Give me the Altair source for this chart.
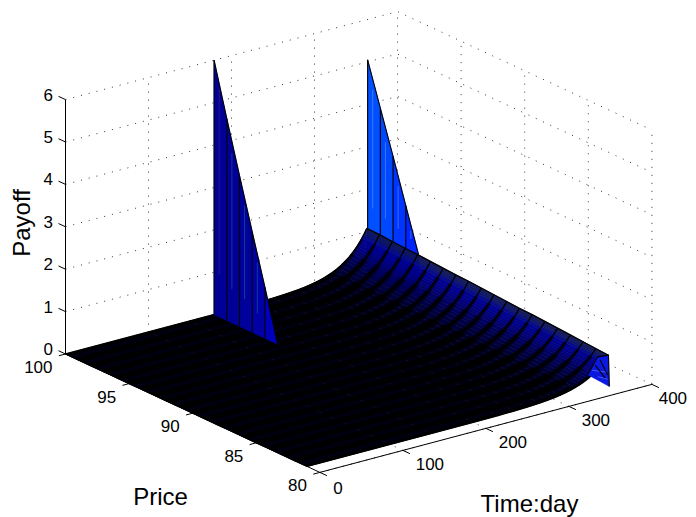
import altair as alt

# ---- values ----
price_ticks = [100, 95, 90, 85, 80]
time_ticks = [0, 100, 200, 300, 400]
payoff_ticks = [0, 1, 2, 3, 4, 5, 6]
prices = [100, 99, 98, 97, 96, 95, 94, 93, 92, 91, 90, 89, 88, 87, 86, 85, 84, 83, 82, 81]
ridge = [1.08, 1.07, 1.05, 1.03, 1.02, 1.00, .98, .96, .95, .93, .91, .89, .87, .86, .84, .82, .80, .78, .76, .74]
times = [0, 100, 150, 200, 230, 250, 265, 280, 290, 298, 305, 312, 318, 323, 328, 332, 336, 339, 342, 345, 347, 349, 351, 353, 355, 357, 359, 360, 361, 362, 363]
back_edge = [0, 0, .001, .004, .011, .022, .037, .062, .087, .115, .146, .186, .229, .272, .323, .371, .426, .472, .523, .580, .622, .666, .714, .765, .819, .878, .941, .974, 1.008, 1.044, 1.08]
shades = ["#000014", "#000014", "#000014", "#000014", "#000014", "#000014", "#000016", "#000018", "#00001c", "#000020", "#000024",
          "#00002a", "#000030", "#000038", "#000040", "#00004a", "#000054", "#00005e", "#000068", "#000072", "#00007c",
          "#000086", "#000090", "#000098", "#00009c", "#060c90", "#0c1480", "#101870", "#121a68", "#141c60"]
band_limits = [357, 345, 323]
band_halfwidths = [0.14, 0.24, 0.38]
band_opacities = [0.6, 0.5, 0.75]
spike1_time = 179
spike1_prices = [100, 99, 98, 97, 96, 95]
spike1_values = [6.0, 4.76, 3.56, 2.37, 1.2, 0.0]
spike1_colors = ["#000096", "#000096", "#00009a", "#0000a4", "#0000b8"]
spike1_streak_prices = [99.6, 98.6, 97.6, 96.6]
spike1_streak_top = [5.4, 4.0, 2.9, 1.7]
spike1_streak_low = [1.0, 0.8, 0.7, 0.5]
spike1_streak_colors = ["#5a2070", "#3050a0", "#107090", "#1060a0"]
spike2_time = 364
spike2_prices = [100, 99, 98, 97, 96]
spike2_values = [5.05, 4.05, 3.05, 2.03, 1.02]
spike2_colors = ["#0050ff", "#0048ff", "#0034ff", "#0024ff"]
spike2_streak_prices = [99.6, 98.6, 97.6, 96.6]
spike2_streak_top = [4.4, 3.3, 2.4, 1.5]
spike2_streak_low = [1.6, 1.5, 1.4, 1.3]
spike2_streak_color = "#5a96ff"
wedge_times = [338, 350, 363, 364]
wedge_values = [.41, .77, .74, 0]
wedge_color = "#0a18e0"
wedge_dark = [[(347, .59), (359, .22)], [(353, .68), (362, .28)]]
wedge_light = [[(343, .49), (361, .35)], [(350, .30), (362, .18)]]


def sx(t, p, z):
    return 65.5 + t / 100 * 83.0 + (100 - p) / 5 * 63.6


def sy(t, p, z):
    return 354 - t / 100 * 22.0 + (100 - p) / 5 * 29.6 - z * 42.4


def rows(points, **extra):
    out = []
    for k, (t, p, z) in enumerate(points):
        out.append(dict(x=sx(t, p, z), y=sy(t, p, z), k=k, **extra))
    return out


def surface_z(j, i):
    return back_edge[j] * ridge[i] / ridge[0]


# dotted box grid
grid = []
for z in payoff_ticks[1:]:
    grid += rows([(0, 100, z), (400, 100, z), (400, 80, z)], id=f"z{z}")
for t in time_ticks[1:]:
    grid += rows([(t, 80, 0), (t, 100, 0), (t, 100, 6)], id=f"t{t}")
for p in price_ticks[1:]:
    grid += rows([(0, p, 0), (400, p, 0), (400, p, 6)], id=f"p{p}")
grid += rows([(0, 100, 0), (400, 100, 0)], id="floor")

# solid axes and ticks
axes = rows([(0, 100, 6), (0, 100, 0), (0, 80, 0), (400, 80, 0)], id="box")
labels_r, labels_c = [], []
for z in payoff_ticks:
    axes += rows([(0, 100, z), (0, 100.55, z)], id=f"zt{z}")
    labels_r.append(dict(x=sx(0, 100, z) - 12.5, y=sy(0, 100, z) - 4, s=str(z)))
for p in price_ticks:
    axes += rows([(0, p, 0), (-8, p, 0)], id=f"pt{p}")
    labels_r.append(dict(x=sx(0, p, 0) - 13, y=sy(0, p, 0) + 14, s=str(p)))
for t in time_ticks:
    axes += rows([(t, 80, 0), (t, 79.45, 0)], id=f"tt{t}")
    off = 18 if t == 0 else (21 if t == 400 else 27)
    labels_c.append(dict(x=sx(t, 80, 0) + off, y=sy(t, 80, 0) + (16.5 if t == 0 else 15), s=str(t)))

# faces
faces_back, edges_back, faces_mid, faces_front, edges_front = [], [], [], [], []
for n, c in enumerate(spike2_colors):
    p0, p1 = spike2_prices[n], spike2_prices[n + 1]
    z0, z1 = spike2_values[n], spike2_values[n + 1]
    faces_back += rows([(spike2_time, p0, 0), (spike2_time, p0, z0), (spike2_time, p1, z1), (spike2_time, p1, 0), (spike2_time, p0, 0)], id=f"b{n}", c=c)
for n, p in enumerate(spike2_prices):
    edges_back += rows([(spike2_time, p, 0), (spike2_time, p, spike2_values[n])], id=f"be{n}")
edges_back += rows([(spike2_time, p, spike2_values[n]) for n, p in enumerate(spike2_prices)], id="btop")
streaks_back = []
for n, p in enumerate(spike2_streak_prices):
    streaks_back += rows([(spike2_time, p, spike2_streak_low[n]), (spike2_time, p, spike2_streak_top[n])], id=f"bs{n}", c=spike2_streak_color)

for i in range(len(prices) - 1):
    for j in range(len(times) - 1):
        pts = [(times[j], prices[i], surface_z(j, i)), (times[j + 1], prices[i], surface_z(j + 1, i)),
               (times[j + 1], prices[i + 1], surface_z(j + 1, i + 1)), (times[j], prices[i + 1], surface_z(j, i + 1))]
        faces_mid += rows(pts + pts[:1], id=f"m{i}_{j}", c=shades[j])

bands = [[], [], []]
narrow, cols = [], []
for i, p in enumerate(prices):
    pts = [(t, surface_z(j, i)) for j, t in enumerate(times)]
    narrow += rows([(t, p, z) for t, z in pts], id=f"r{p}")
    for b, (limit, half) in enumerate(zip(band_limits, band_halfwidths)):
        kept = [q for q in pts if q[0] <= limit]
        upper = [(t, min(p + half, prices[0]), z) for t, z in kept]
        lower = [(t, max(p - half, prices[-1]), z) for t, z in reversed(kept)]
        bands[b] += rows(upper + lower + upper[:1], id=f"band{b}_{p}", c="#000000")
for j, t in enumerate(times):
    cols += rows([(t, p, surface_z(j, i)) for i, p in enumerate(prices)], id=f"c{t}")
narrow += rows([(times[-1], p, ridge[i]) for i, p in enumerate(prices)], id="ridge")
narrow += rows([(0, p, 0) for p in prices], id="near")

wedge_pts = [(t, 81, z) for t, z in zip(wedge_times, wedge_values)]
faces_front += rows(wedge_pts + wedge_pts[:1], id="w", c=wedge_color)
edges_front += rows(wedge_pts, id="we")
for n, seg in enumerate(wedge_dark):
    edges_front += rows([(t, 81, z) for t, z in seg], id=f"wd{n}")
streaks_front = []
for n, seg in enumerate(wedge_light):
    streaks_front += rows([(t, 81, z) for t, z in seg], id=f"wl{n}", c="#6a80ff")
for n, c in enumerate(spike1_colors):
    p0, p1 = spike1_prices[n], spike1_prices[n + 1]
    z0, z1 = spike1_values[n], spike1_values[n + 1]
    faces_front += rows([(spike1_time, p0, 0), (spike1_time, p0, z0), (spike1_time, p1, z1), (spike1_time, p1, 0), (spike1_time, p0, 0)], id=f"f{n}", c=c)
for n, p in enumerate(spike1_prices):
    edges_front += rows([(spike1_time, p, 0), (spike1_time, p, spike1_values[n])], id=f"fe{n}")
edges_front += rows([(spike1_time, p, spike1_values[n]) for n, p in enumerate(spike1_prices)], id="ftop")
for n, p in enumerate(spike1_streak_prices):
    streaks_front += rows([(spike1_time, p, spike1_streak_low[n]), (spike1_time, p, spike1_streak_top[n])], id=f"fs{n}", c=spike1_streak_colors[n])

X = alt.X("x:Q", axis=None, scale=alt.Scale(domain=[8, 688], nice=False, zero=False))
Y = alt.Y("y:Q", axis=None, scale=alt.Scale(domain=[517, 8], nice=False, zero=False))


def lines(data, **mark):
    return alt.Chart(alt.Data(values=data)).mark_line(**mark).encode(x=X, y=Y, detail="id:N", order="k:Q")


def polys(data):
    return alt.Chart(alt.Data(values=data)).mark_line(strokeWidth=0.5, strokeCap="butt").encode(
        x=X, y=Y, detail="id:N", order="k:Q",
        fill=alt.Fill("c:N", scale=None), stroke=alt.Stroke("c:N", scale=None))


def band_layer(data, opacity):
    return alt.Chart(alt.Data(values=data)).mark_line(strokeWidth=0, opacity=opacity).encode(
        x=X, y=Y, detail="id:N", order="k:Q", fill=alt.Fill("c:N", scale=None))


def streaks(data):
    return alt.Chart(alt.Data(values=data)).mark_line(strokeWidth=0.8, opacity=0.75).encode(
        x=X, y=Y, detail="id:N", order="k:Q", stroke=alt.Stroke("c:N", scale=None))


def texts(data, **mark):
    return alt.Chart(alt.Data(values=data)).mark_text(font="Liberation Sans", color="#000", **mark).encode(x=X, y=Y, text="s:N")


titles = [dict(x=160.5, y=505, s="Price"), dict(x=529.5, y=512, s="Time:day")]

chart = alt.layer(
    lines(grid, color="#000", strokeWidth=0.8, strokeDash=[1, 7]),
    lines(axes, color="#000", strokeWidth=1),
    polys(faces_back),
    streaks(streaks_back),
    lines(edges_back, color="#000", strokeWidth=1.1),
    polys(faces_mid),
    lines(cols, color="#000", strokeWidth=0.5, opacity=0.5),
    band_layer(bands[0], band_opacities[0]),
    band_layer(bands[1], band_opacities[1]),
    band_layer(bands[2], band_opacities[2]),
    lines(narrow, color="#000", strokeWidth=1.3),
    polys(faces_front),
    streaks(streaks_front),
    lines(edges_front, color="#000", strokeWidth=1.1),
    texts(labels_r, fontSize=17, align="right", baseline="middle"),
    texts(labels_c, fontSize=17, align="center", baseline="middle"),
    texts(titles, fontSize=24, align="center", baseline="alphabetic"),
    texts([dict(x=29.8, y=223, s="Payoff")], fontSize=24, align="center", baseline="alphabetic", angle=270),
).properties(width=680, height=509, padding=0, autosize=alt.AutoSizeParams(type="none")).configure_view(stroke=None)

chart.save("out.html", embed_options={"renderer": "svg", "actions": False})
